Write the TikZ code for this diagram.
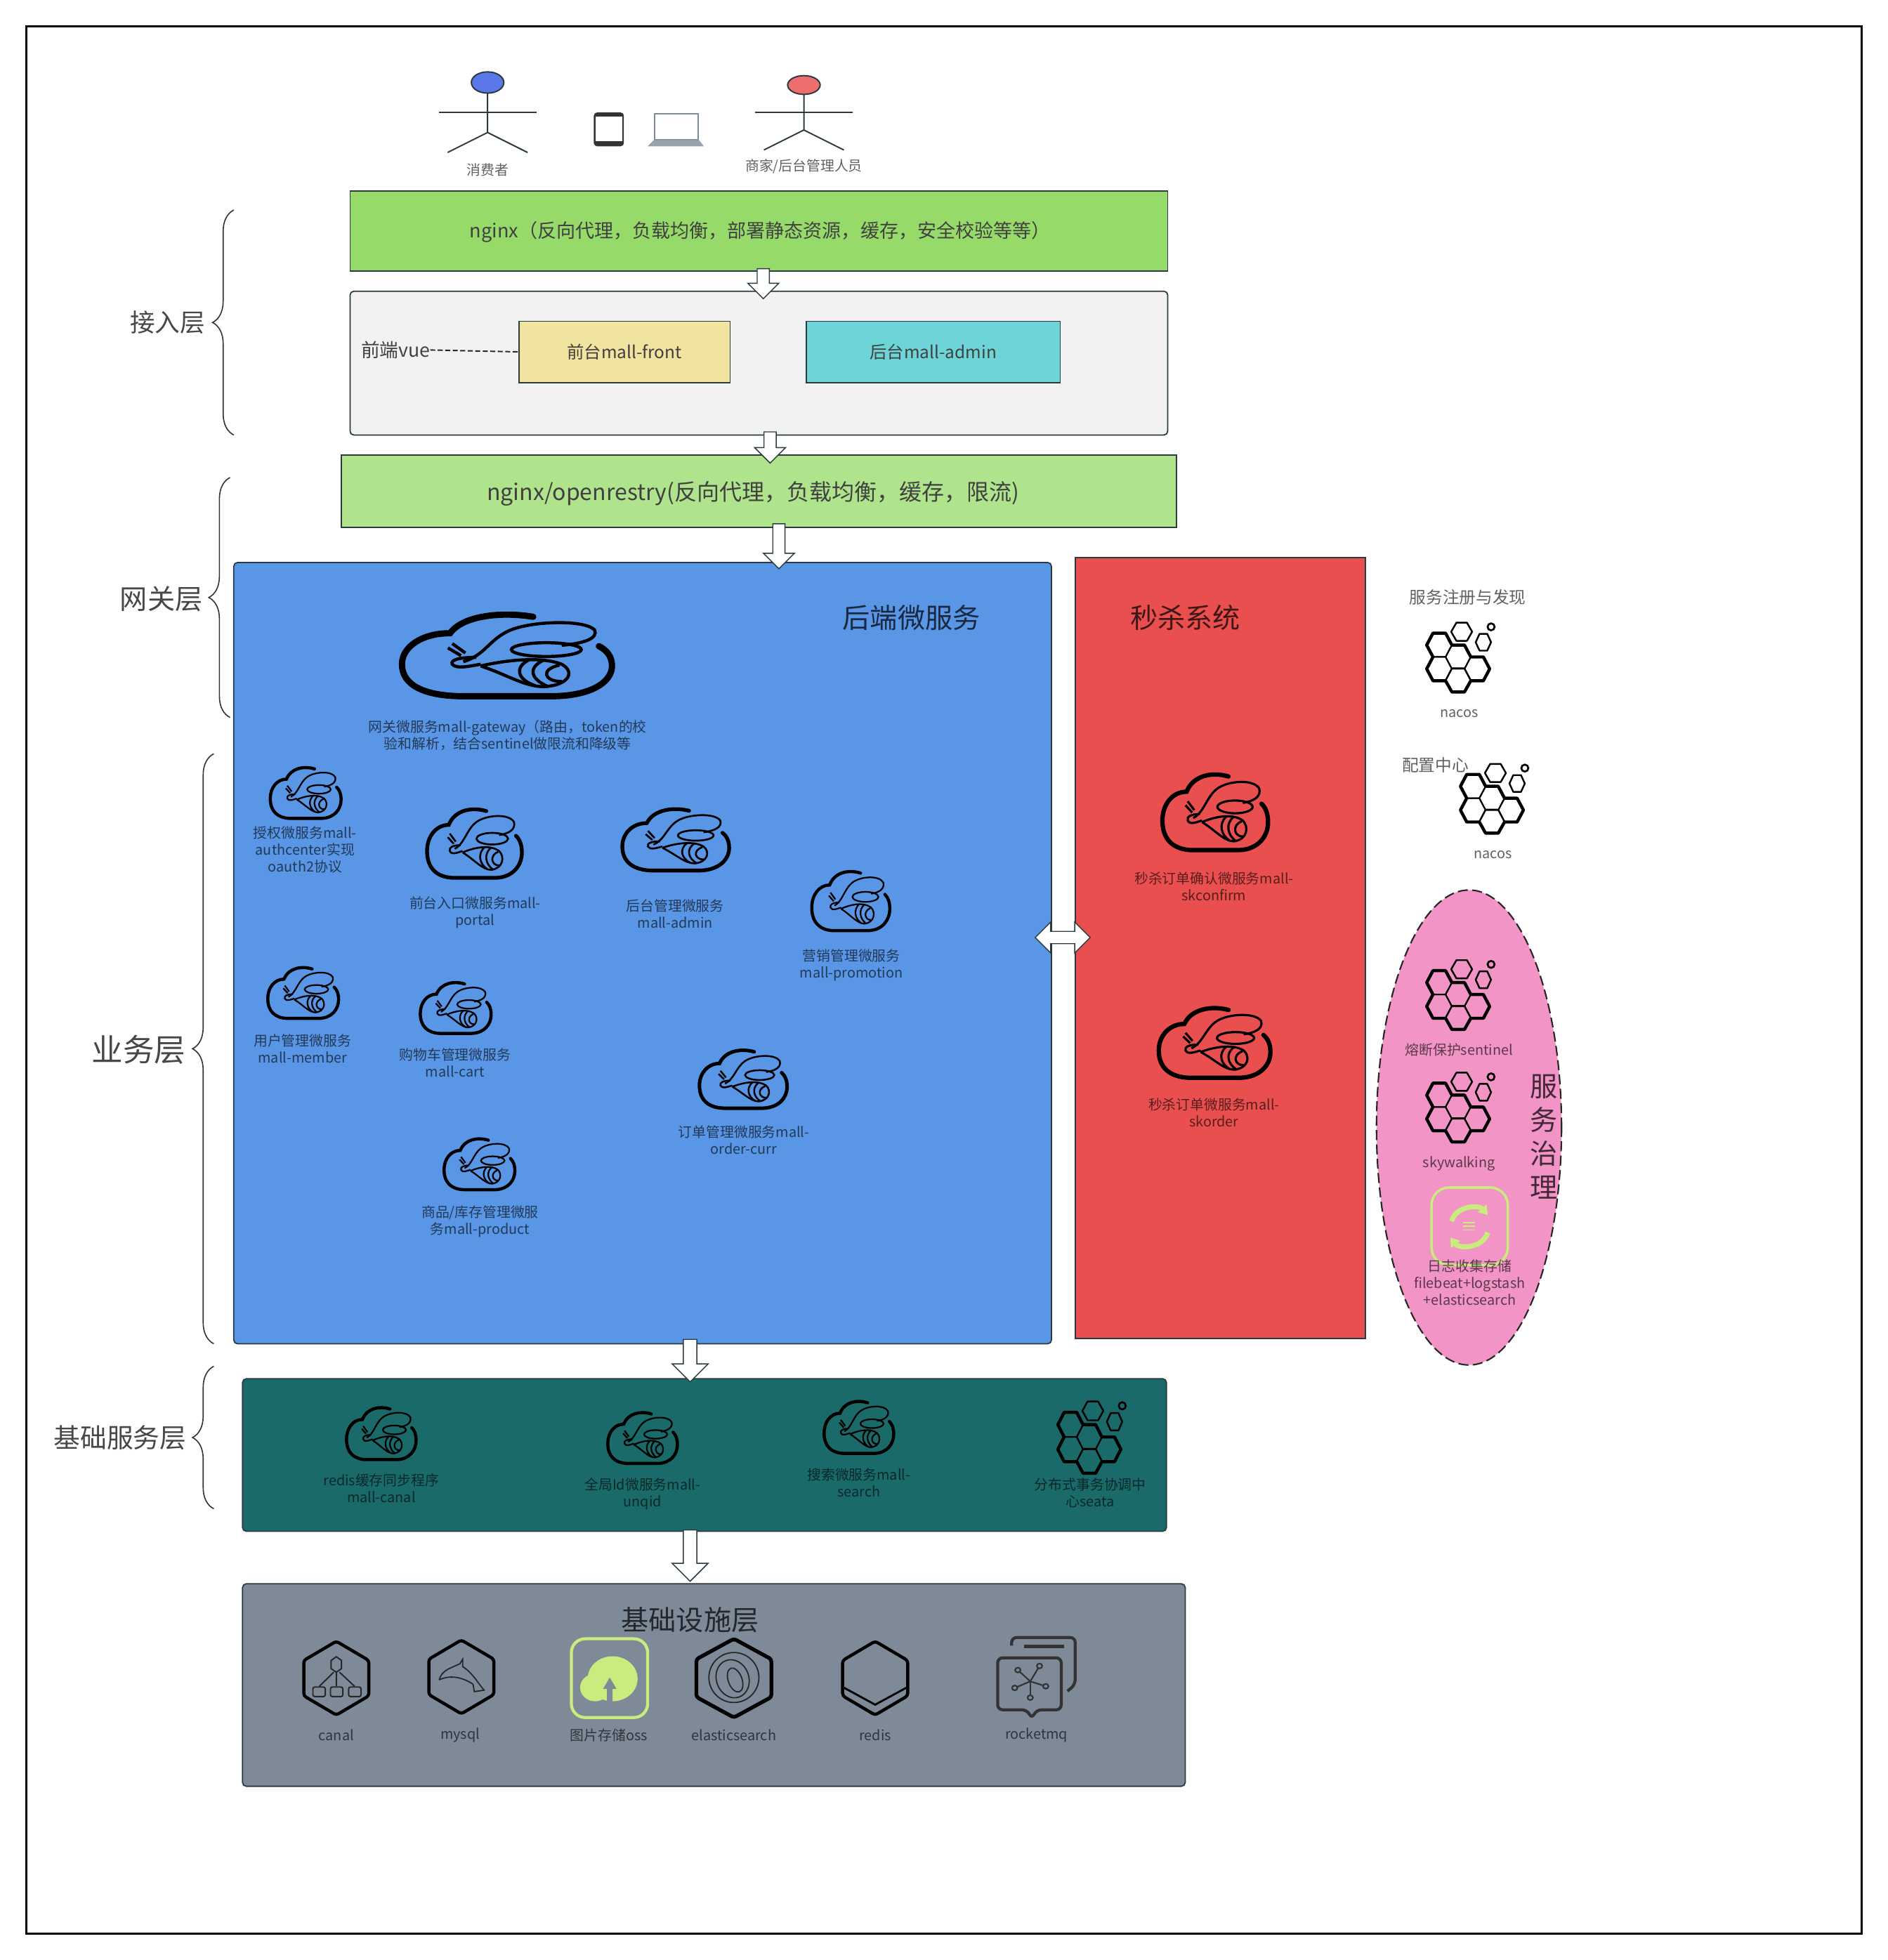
\documentclass[tikz,border=0pt]{standalone}
\usepackage{fontspec}
\setmainfont{Noto Sans CJK SC}
\usetikzlibrary{positioning,shapes.arrows,shapes.geometric,decorations.pathreplacing,arrows.meta}

\definecolor{edgeclr}{HTML}{2B3A3F}
\definecolor{limeclr}{HTML}{C8EC7E}
\definecolor{slateclr}{HTML}{7F8A99}

\tikzset{
	icon line/.store in=\iconline, icon line=2.5pt,
	pics/beecloud/.style={code={
		\draw[line width=\iconline, line cap=round] (62,5) .. controls (48,-1) and (30,3) .. (24,24) .. controls (11,24) and (2,40) .. (2,60) .. controls (2,84) and (12,96) .. (28,97) -- (72,97) .. controls (89,96) and (98,80) .. (98,62) .. controls (98,52) and (96,44) .. (92,39);
		\begin{scope}[line width=0.5*\iconline]
			\draw (30,57) .. controls (40,50) and (42,30) .. (52,20) .. controls (62,10) and (85,8) .. (90,20) .. controls (92,30) and (85,36) .. (75,38);
			\draw (68,43) ellipse [x radius=16, y radius=8];
			\draw (36,52) .. controls (28,52) and (24,55) .. (25,60) .. controls (27,66) and (33,62) .. (38,60);
			\draw (23,41) -- (29,50);
			\draw (25,36) -- (31,47);
			\draw (38,62) .. controls (48,56) and (65,50) .. (75,60) .. controls (81,68) and (79,84) .. (67,86) .. controls (58,86) and (50,72) .. (38,62);
			\draw (60,55) .. controls (53,64) and (55,78) .. (63,85);
			\draw (67,55) .. controls (59,64) and (61,78) .. (69,86);
			\draw (74,61) .. controls (65,66) and (67,80) .. (75,80);
		\end{scope}
	}},
	pics/honeycomb/.style={code={
		\foreach \cx/\cy in {20/34, 20/68, 47/51, 47/84, 74/68}
			\draw[line width=0.45*\iconline, line join=round] ({\cx-18},\cy) -- ({\cx-9},{\cy-17}) -- ({\cx+9},{\cy-17}) -- ({\cx+18},\cy) -- ({\cx+9},{\cy+17}) -- ({\cx-9},{\cy+17}) -- cycle;
		\draw[line width=\iconline, line join=round] (11,17) -- (29,17) -- (38,34) -- (56,34) -- (65,51) -- (83,51) -- (92,68) -- (83,85) -- (65,85) -- (56,101) -- (38,101) -- (29,85) -- (11,85) -- (2,68) -- (11,51) -- (2,34) -- cycle;
		\foreach \cx/\cy/\hw/\hh in {52/15/15/13, 83/30/11/12}
			\draw[line width=0.55*\iconline, line join=round] ({\cx-\hw},\cy) -- ({\cx-\hw/2},{\cy-\hh}) -- ({\cx+\hw/2},{\cy-\hh}) -- ({\cx+\hw},\cy) -- ({\cx+\hw/2},{\cy+\hh}) -- ({\cx-\hw/2},{\cy+\hh}) -- cycle;
		\draw[line width=0.6*\iconline] (94,8) ellipse [x radius=5, y radius=5];
	}},
	pics/hexframe/.style={code={
		\draw[line width=\iconline, rounded corners=2pt] (50,0) -- (100,26) -- (100,74) -- (50,100) -- (0,74) -- (0,26) -- cycle;
	}},
}

\begin{document}
\begin{tikzpicture}[
		x=1pt, y=-1pt,
		every node/.style={inner sep=0pt, outer sep=0pt},
		layerbox/.style={draw=edgeclr, line width=1pt},
		roundbox/.style={layerbox, rounded corners=3pt},
		iconlabel/.style={align=center, text=black, text opacity=0.62, font=\fontsize{11.15}{13.5}\selectfont},
		sidelabel/.style={iconlabel, font=\fontsize{13.3}{17}\selectfont},
		layername/.style={align=center, text=black, text opacity=0.72},
		downarrow/.style={draw=edgeclr, fill=white, line width=0.8pt, single arrow, shape border rotate=270, inner sep=4.5pt, single arrow head extend=7.5pt, anchor=tip},
		stickman/.style={draw=edgeclr, line width=1.1pt},
		bracket/.style={draw=black!80, line width=0.9pt, decorate, decoration={brace, amplitude=17pt}},
	]

	\useasboundingbox (0,0) rectangle (1510,1568);
	\draw[black, line width=1.4pt] (21,21) rectangle (1489,1547);

	%Users
	\draw[stickman, fill={rgb,255:red,90;green,120;blue,232}] (390,66) ellipse [x radius=13, y radius=8.5];
	\draw[stickman] (390,74.5) -- (390,106) -- (358,122);
	\draw[stickman] (390,106) -- (422,122);
	\draw[stickman] (351,90) -- (429,90);
	\node[iconlabel] (consumer) at (390,136) {消费者};
	\draw[stickman, fill={rgb,255:red,238;green,110;blue,110}] (643,68) ellipse [x radius=13, y radius=7.5];
	\draw[stickman] (643,75.5) -- (643,104) -- (611,120);
	\draw[stickman] (643,104) -- (675,120);
	\draw[stickman] (604,90) -- (682,90);
	\node[iconlabel] (merchant) at (643,133) {商家/后台管理人员};
	\fill[black!80, rounded corners=2.5pt] (475,90) rectangle (499,117);
	\fill[white] (476.5,93) rectangle (497.5,113);
	\draw[slateclr, line width=1.4pt, fill=white] (523.5,91) rectangle (558.5,112);
	\fill[slateclr!80] (523,112) -- (559,112) -- (563,117) -- (518,117) -- cycle;

	%Layer boxes
	\node[layerbox, fill={rgb,255:red,150;green,219;blue,106}, minimum width=654pt, minimum height=64pt] (nginx) at (607,185) {};
	\node[font=\fontsize{15.2}{18}\selectfont, text=black!75] (nginxtext) at (608,185.5) {nginx（反向代理，负载均衡，部署静态资源，缓存，安全校验等等）};
	\node[roundbox, fill=black!5, minimum width=654pt, minimum height=115pt] (frontend) at (607,290.5) {};
	\node[font=\fontsize{15}{18}\selectfont, text=black!75] (vue) at (316.5,280) {前端vue};
	\node[layerbox, fill={rgb,255:red,241;green,227;blue,160}, minimum width=169pt, minimum height=49pt, font=\fontsize{13.7}{18}\selectfont, text=black!75] (mallfront) at (499.5,281.5) {前台mall-front};
	\node[layerbox, fill={rgb,255:red,109;green,213;blue,216}, minimum width=203pt, minimum height=49pt, font=\fontsize{13.7}{18}\selectfont, text=black!75] (malladmin) at (746.5,281.5) {后台mall-admin};
	\node[layerbox, fill={rgb,255:red,175;green,228;blue,141}, minimum width=668pt, minimum height=58pt] (openresty) at (607,393) {};
	\node[font=\fontsize{18}{22}\selectfont, text=black!75] (openrestytext) at (602.5,395) {nginx/openrestry(反向代理，负载均衡，缓存，限流)};
	\node[roundbox, fill={rgb,255:red,90;green,150;blue,230}, minimum width=654pt, minimum height=625pt] (backend) at (514,762.5) {};
	\node[layerbox, fill={rgb,255:red,233;green,79;blue,78}, minimum width=232pt, minimum height=625pt] (seckill) at (976,758.5) {};
	\node[roundbox, fill={rgb,255:red,26;green,106;blue,106}, minimum width=739pt, minimum height=122pt] (basesvc) at (563.5,1164) {};
	\node[roundbox, fill=slateclr, minimum width=754pt, minimum height=162pt] (infra) at (571,1348) {};
	\node[ellipse, draw=black!85, dash pattern=on 8pt off 3.5pt, line width=1.2pt, fill={rgb,255:red,242;green,149;blue,198}, minimum width=148pt, minimum height=380pt] (governance) at (1175,902) {};

	%Lines
	\draw[dash pattern=on 4pt off 2pt, black!85, line width=1.1pt] (vue.east) -- (mallfront.west);

	%Arrows
	\node[downarrow, minimum height=24pt, minimum width=24pt] (arrowa) at (610.5,239) {};
	\node[downarrow, minimum height=25pt, minimum width=24pt] (arrowb) at (616,370.5) {};
	\node[downarrow, minimum height=36pt, minimum width=24pt] (arrowc) at (623,455) {};
	\node[downarrow, minimum height=34pt, minimum width=28pt, single arrow head extend=9pt, inner sep=5pt] (arrowd) at (552,1105.5) {};
	\node[downarrow, minimum height=41pt, minimum width=28pt, single arrow head extend=9pt, inner sep=5pt] (arrowe) at (552,1265) {};
	\node[draw=edgeclr, fill=white, line width=0.8pt, double arrow, inner sep=4.5pt, double arrow head extend=7.5pt, minimum height=44pt, minimum width=24pt] (arrowf) at (850,750) {};

	%Layer names
	\node[layername, font=\fontsize{20}{24}\selectfont] (accessname) at (134,258) {接入层};
	\node[layername, font=\fontsize{22}{26}\selectfont] (gatewayname) at (129,479) {网关层};
	\node[layername, font=\fontsize{25}{30}\selectfont] (bizname) at (111,840) {业务层};
	\node[layername, font=\fontsize{21.2}{26}\selectfont] (basename) at (96,1150) {基础服务层};
	\draw[bracket] (187,348) -- (187,168);
	\draw[bracket] (184,574) -- (184,382);
	\draw[bracket] (171,1075) -- (171,603);
	\draw[bracket] (171,1207) -- (171,1093);
	\node[layername, font=\fontsize{22}{26}\selectfont] (backendname) at (729,494) {后端微服务};
	\node[layername, font=\fontsize{22}{26}\selectfont] (seckillname) at (948,494) {秒杀系统};
	\node[layername, font=\fontsize{22}{26}\selectfont] (infraname) at (552,1296) {基础设施层};
	\node[layername, font=\fontsize{22}{27}\selectfont] (govname) at (1235,909.5) {服\\务\\治\\理};

	%Backend services
	\pic[xscale=1.75, yscale=0.69, icon line=5pt] at (318,490) {beecloud};
	\node[iconlabel] (gateway) at (406,588) {网关微服务mall-gateway（路由，token的校\\验和解析，结合sentinel做限流和降级等};
	\pic[xscale=0.59, yscale=0.43] at (215,613) {beecloud};
	\node[iconlabel] (authcenter) at (244,680) {授权微服务mall-\\authcenter实现\\oauth2协议};
	\pic[xscale=0.79, yscale=0.58, icon line=3pt] at (340,646) {beecloud};
	\node[iconlabel] (portal) at (380,730) {前台入口微服务mall-\\portal};
	\pic[xscale=0.89, yscale=0.52, icon line=3pt] at (496,646) {beecloud};
	\node[iconlabel] (admin) at (540,731) {后台管理微服务\\mall-admin};
	\pic[xscale=0.65, yscale=0.50] at (648,696) {beecloud};
	\node[iconlabel] (promotion) at (681,772) {营销管理微服务\\mall-promotion};
	\pic[xscale=0.59, yscale=0.43] at (213,773) {beecloud};
	\node[iconlabel] (member) at (242,839) {用户管理微服务\\mall-member};
	\pic[xscale=0.59, yscale=0.43] at (335,785) {beecloud};
	\node[iconlabel] (cart) at (364,850) {购物车管理微服务\\mall-cart};
	\pic[xscale=0.59, yscale=0.43] at (354,910) {beecloud};
	\node[iconlabel] (product) at (384,977) {商品/库存管理微服\\务mall-product};
	\pic[xscale=0.73, yscale=0.49, icon line=2.8pt] at (558,839) {beecloud};
	\node[iconlabel] (order) at (595,912) {订单管理微服务mall-\\order-curr};

	%Seckill services
	\pic[xscale=0.88, yscale=0.64, icon line=3.5pt] at (928,618) {beecloud};
	\node[iconlabel] (skconfirm) at (971,709) {秒杀订单确认微服务mall-\\skconfirm};
	\pic[xscale=0.93, yscale=0.59, icon line=3.5pt] at (925,805) {beecloud};
	\node[iconlabel] (skorder) at (971,890) {秒杀订单微服务mall-\\skorder};

	%Base services
	\pic[xscale=0.58, yscale=0.44] at (276,1125) {beecloud};
	\node[iconlabel] (canal) at (305,1190.5) {redis缓存同步程序\\mall-canal};
	\pic[xscale=0.58, yscale=0.43] at (485,1129) {beecloud};
	\node[iconlabel] (unqid) at (514,1195) {全局Id微服务mall-\\unqid};
	\pic[xscale=0.58, yscale=0.44] at (658,1120) {beecloud};
	\node[iconlabel] (search) at (687,1186) {搜索微服务mall-\\search};
	\pic[xscale=0.56, yscale=0.58] at (845,1120) {honeycomb};
	\node[iconlabel] (seata) at (872,1194) {分布式事务协调中\\心seata};

	%Governance side
	\node[sidelabel] (registry) at (1174,478) {服务注册与发现};
	\pic[xscale=0.56, yscale=0.56] at (1140,497) {honeycomb};
	\node[iconlabel] (nacosa) at (1167,571) {nacos};
	\node[sidelabel] (config) at (1148,612) {配置中心};
	\pic[xscale=0.56, yscale=0.56] at (1167,610) {honeycomb};
	\node[iconlabel] (nacosb) at (1194,684) {nacos};
	\pic[xscale=0.56, yscale=0.56] at (1140,767) {honeycomb};
	\node[iconlabel] (sentinel) at (1167,840) {熔断保护sentinel};
	\pic[xscale=0.56, yscale=0.56] at (1140,857) {honeycomb};
	\node[iconlabel] (skywalking) at (1167,931) {skywalking};
	\draw[limeclr, line width=2pt, rounded corners=14pt] (1145,950) rectangle (1206,1012);
	\draw[limeclr, line width=4pt, -{Triangle[length=7pt,width=9pt]}] (1161,977) .. controls (1165,964) and (1183,964) .. (1190,972);
	\draw[limeclr, line width=4pt, -{Triangle[length=7pt,width=9pt]}] (1190,986) .. controls (1186,999) and (1167,999) .. (1160,990);
	\draw[limeclr, line width=1pt] (1170,978) -- (1180,978) (1170,981) -- (1180,981) (1170,984) -- (1180,984);
	\node[iconlabel] (logging) at (1175.5,1026) {日志收集存储\\filebeat+logstash\\+elasticsearch};

	%Infrastructure
	\pic[xscale=0.52, yscale=0.59] at (243,1313) {hexframe};
	\begin{scope}[shift={(243,1313)}, xscale=0.52, yscale=0.59, black!85, line width=1.1pt]
		\draw (50,21) -- (58,26) -- (58,37) -- (50,42) -- (42,37) -- (42,26) -- cycle;
		\draw (46,42) -- (24,61) (50,42) -- (50,61) (55,42) -- (78,61);
		\draw[rounded corners=1.5pt] (14,62) rectangle (33,75) (41,62) rectangle (60,75) (69,62) rectangle (88,75);
	\end{scope}
	\node[iconlabel] (canalname) at (269,1388) {canal};
	\pic[xscale=0.52, yscale=0.59] at (343,1312) {hexframe};
	\begin{scope}[shift={(343,1312)}, xscale=0.52, yscale=0.59, black!85, line width=1pt]
		\draw (16,54) .. controls (20,40) and (35,38) .. (48,32) -- (52,26) -- (52,36) .. controls (68,45) and (75,58) .. (85,68) -- (70,70) -- (68,60) .. controls (55,52) and (35,46) .. (16,54);
	\end{scope}
	\node[iconlabel] (mysqlname) at (368,1388) {mysql};
	\draw[limeclr, line width=2.4pt, rounded corners=11pt] (457,1311) rectangle (518,1374);
	\fill[limeclr] (490,1343) ellipse [x radius=20, y radius=18];
	\fill[limeclr] (476,1350) ellipse [x radius=12, y radius=11];
	\fill[slateclr] (487.7,1342) -- (493,1351) -- (490,1351) -- (490,1362) -- (485.4,1362) -- (485.4,1351) -- (482.4,1351) -- cycle;
	\node[iconlabel] (ossname) at (487,1388) {图片存储oss};
	\pic[xscale=0.60, yscale=0.63, icon line=3pt] at (557,1311) {hexframe};
	\begin{scope}[black!85, line width=1pt]
		\draw (587,1342) ellipse [x radius=20, y radius=20];
		\draw[rotate around={20:(586,1343)}] (586,1343) ellipse [x radius=13, y radius=15.5];
		\draw[rotate around={20:(588,1344)}] (588,1344) ellipse [x radius=5.5, y radius=10];
	\end{scope}
	\node[iconlabel] (elasticname) at (587,1388) {elasticsearch};
	\pic[xscale=0.52, yscale=0.59] at (674,1313) {hexframe};
	\begin{scope}[shift={(674,1313)}, xscale=0.52, yscale=0.59, line width=1.6pt]
		\draw (0,62) -- (50,86) -- (100,62);
	\end{scope}
	\node[iconlabel] (redisname) at (700,1388) {redis};
	\begin{scope}[shift={(798,1310)}, xscale=0.62, yscale=0.65, black!80, line width=2.4pt]
		\draw[rounded corners=4pt] (18,10) -- (18,0) -- (100,0) -- (100,58) -- (90,66);
		\draw (34,11) -- (86,11);
		\draw[rounded corners=4pt] (44,100) -- (38,89) -- (0,89) -- (0,25) -- (82,25) -- (82,89) -- (50,89) -- cycle;
		\foreach \px/\py in {26/40, 54/35, 62/60, 42/74, 22/62}
			\draw[line width=1.2pt] (42,54) -- (\px,\py);
		\foreach \px/\py in {26/40, 54/35, 62/60, 42/74, 22/62}
			\draw[line width=1.2pt, fill=slateclr] (\px,\py) ellipse [x radius=3.5, y radius=3];
	\end{scope}
	\node[iconlabel] (rocketname) at (829,1388) {rocketmq};

\end{tikzpicture}
\end{document}
